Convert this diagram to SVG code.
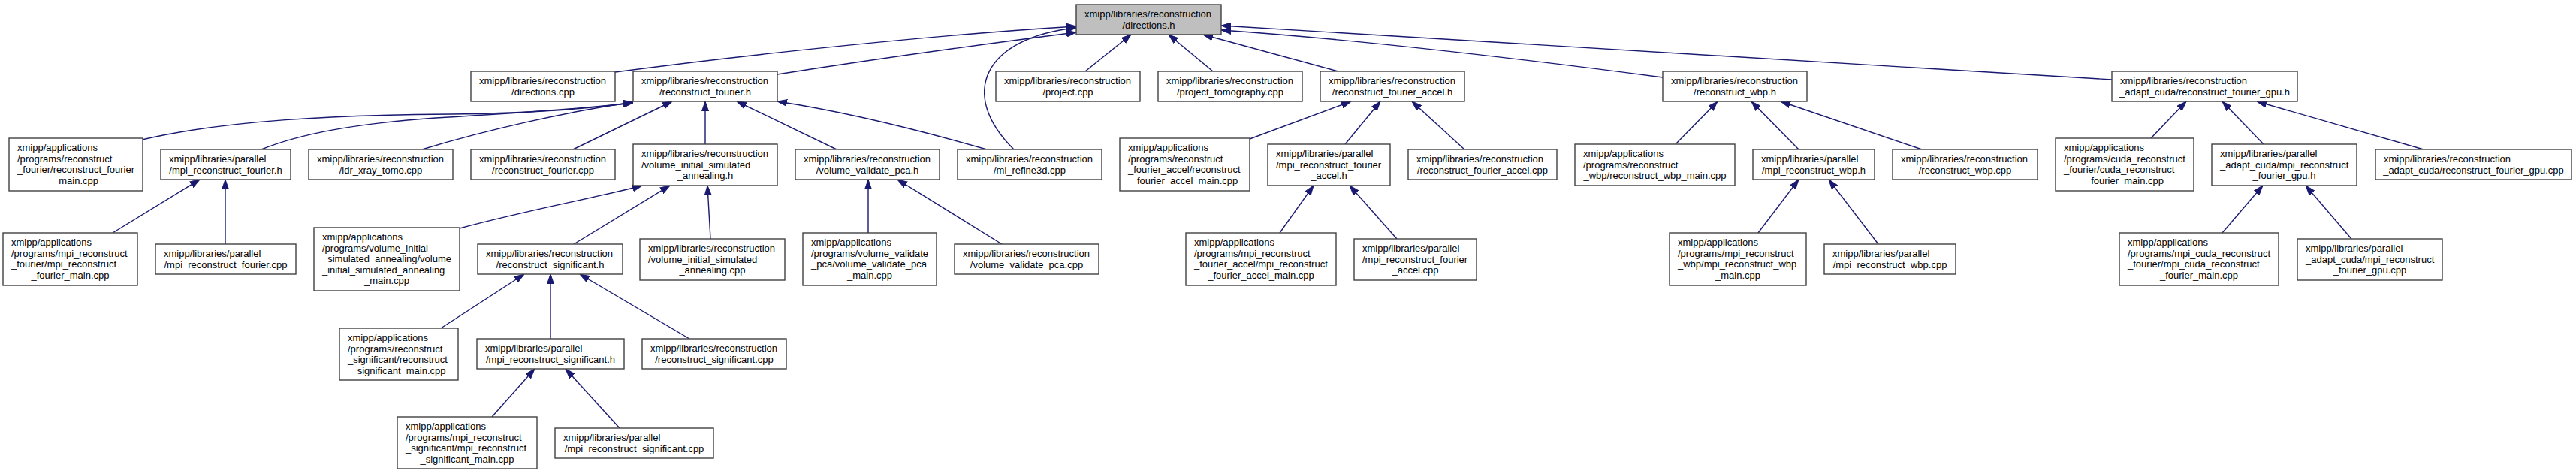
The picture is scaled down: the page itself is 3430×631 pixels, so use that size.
<svg xmlns="http://www.w3.org/2000/svg" width="3430" height="631" viewBox="0 0 3430 631">
<style>
.node rect{fill:#ffffff;stroke:#404040;stroke-width:1.4}
.root rect{fill:#bfbfbf}
text{font-family:"Liberation Sans",Arial,Helvetica,sans-serif;font-size:13px;fill:#000000}
text.c{text-anchor:middle}
.edges path{fill:none;stroke:#191970;stroke-width:1.4;marker-end:url(#arr)}
</style>
<defs>
<marker id="arr" viewBox="0 0 13 10" refX="13" refY="5" markerWidth="13" markerHeight="10" orient="auto" markerUnits="userSpaceOnUse">
<path d="M0,0.5 L13,5 L0,9.5 z" fill="#191970" stroke="#191970" stroke-width="1"/>
</marker>
</defs>
<rect x="0" y="0" width="3430" height="631" fill="#ffffff"/>
<g class="edges">
<path d="M819,96 C1000,72 1250,46 1433,35"/>
<path d="M1035,99 C1150,81 1300,60 1433,43"/>
<path d="M1350,199 C1275,125 1310,50 1433,37"/>
<path d="M1445,95 L1506,46"/>
<path d="M1615,95 L1556,46"/>
<path d="M1782,95 L1602,46"/>
<path d="M2214,103 C2000,75 1800,52 1626,40"/>
<path d="M2812,106 L1626,34"/>
<path d="M189,186 C300,160 450,153 600,152 C700,151 790,145 843,136"/>
<path d="M348,199 C400,178 470,165 580,157 C700,150 790,143 843,137"/>
<path d="M562,199 C650,172 760,148 843,136"/>
<path d="M763,199 L895,135"/>
<path d="M939,192 L939,135"/>
<path d="M1114,199 L981,135"/>
<path d="M1314,199 C1220,172 1120,148 1035,135"/>
<path d="M150,310 L266,239"/>
<path d="M300,325 L300,239"/>
<path d="M612,304 C700,280 800,262 855,247"/>
<path d="M764,325 L892,247"/>
<path d="M946,318 L942,247"/>
<path d="M1156,310 L1156,239"/>
<path d="M1334,325 L1195,239"/>
<path d="M587,437 L698,365"/>
<path d="M733,451 L733,365"/>
<path d="M918,451 L772,365"/>
<path d="M655,555 L712,491"/>
<path d="M825,570 L753,491"/>
<path d="M1664,185 L1799,135"/>
<path d="M1791,192 L1838,135"/>
<path d="M1950,199 L1880,135"/>
<path d="M1704,310 L1749,247"/>
<path d="M1860,318 L1797,247"/>
<path d="M2231,192 L2287,135"/>
<path d="M2395,199 L2332,135"/>
<path d="M2559,199 L2371,135"/>
<path d="M2341,310 L2395,239"/>
<path d="M2501,325 L2435,239"/>
<path d="M2864,184 L2911,135"/>
<path d="M3014,192 L2959,135"/>
<path d="M3227,199 L3005,135"/>
<path d="M2959,310 L3013,247"/>
<path d="M3131,318 L3070,247"/>
</g>
<g id="n1" class="node root"><rect x="1433" y="6" width="193" height="40"/><text x="1444" y="23">xmipp/libraries/reconstruction</text><text class="c" x="1529.5" y="37.6">/directions.h</text></g>
<g id="n2" class="node"><rect x="627" y="95" width="192" height="40"/><text x="638" y="112">xmipp/libraries/reconstruction</text><text class="c" x="723" y="126.6">/directions.cpp</text></g>
<g id="n3" class="node"><rect x="843" y="95" width="192" height="40"/><text x="854" y="112">xmipp/libraries/reconstruction</text><text class="c" x="939" y="126.6">/reconstruct_fourier.h</text></g>
<g id="n4" class="node"><rect x="1326" y="95" width="192" height="40"/><text x="1337" y="112">xmipp/libraries/reconstruction</text><text class="c" x="1422" y="126.6">/project.cpp</text></g>
<g id="n5" class="node"><rect x="1542" y="95" width="192" height="40"/><text x="1553" y="112">xmipp/libraries/reconstruction</text><text class="c" x="1638" y="126.6">/project_tomography.cpp</text></g>
<g id="n6" class="node"><rect x="1758" y="95" width="192" height="40"/><text x="1769" y="112">xmipp/libraries/reconstruction</text><text class="c" x="1854" y="126.6">/reconstruct_fourier_accel.h</text></g>
<g id="n7" class="node"><rect x="2214" y="95" width="192" height="40"/><text x="2225" y="112">xmipp/libraries/reconstruction</text><text class="c" x="2310" y="126.6">/reconstruct_wbp.h</text></g>
<g id="n8" class="node"><rect x="2812" y="95" width="247" height="40"/><text x="2823" y="112">xmipp/libraries/reconstruction</text><text class="c" x="2935.5" y="126.6">_adapt_cuda/reconstruct_fourier_gpu.h</text></g>
<g id="n9" class="node"><rect x="12" y="184" width="178" height="70"/><text x="23" y="201">xmipp/applications</text><text x="23" y="215.6">/programs/reconstruct</text><text x="23" y="230.2">_fourier/reconstruct_fourier</text><text class="c" x="101" y="244.8">_main.cpp</text></g>
<g id="n10" class="node"><rect x="214" y="199" width="173" height="40"/><text x="225" y="216">xmipp/libraries/parallel</text><text class="c" x="300.5" y="230.6">/mpi_reconstruct_fourier.h</text></g>
<g id="n11" class="node"><rect x="411" y="199" width="192" height="40"/><text x="422" y="216">xmipp/libraries/reconstruction</text><text class="c" x="507" y="230.6">/idr_xray_tomo.cpp</text></g>
<g id="n12" class="node"><rect x="627" y="199" width="192" height="40"/><text x="638" y="216">xmipp/libraries/reconstruction</text><text class="c" x="723" y="230.6">/reconstruct_fourier.cpp</text></g>
<g id="n13" class="node"><rect x="843" y="192" width="192" height="55"/><text x="854" y="209">xmipp/libraries/reconstruction</text><text x="854" y="223.6">/volume_initial_simulated</text><text class="c" x="939" y="238.2">_annealing.h</text></g>
<g id="n14" class="node"><rect x="1059" y="199" width="192" height="40"/><text x="1070" y="216">xmipp/libraries/reconstruction</text><text class="c" x="1155" y="230.6">/volume_validate_pca.h</text></g>
<g id="n15" class="node"><rect x="1275" y="199" width="192" height="40"/><text x="1286" y="216">xmipp/libraries/reconstruction</text><text class="c" x="1371" y="230.6">/ml_refine3d.cpp</text></g>
<g id="n16" class="node"><rect x="1491" y="184" width="173" height="70"/><text x="1502" y="201">xmipp/applications</text><text x="1502" y="215.6">/programs/reconstruct</text><text x="1502" y="230.2">_fourier_accel/reconstruct</text><text class="c" x="1577.5" y="244.8">_fourier_accel_main.cpp</text></g>
<g id="n17" class="node"><rect x="1688" y="192" width="163" height="55"/><text x="1699" y="209">xmipp/libraries/parallel</text><text x="1699" y="223.6">/mpi_reconstruct_fourier</text><text class="c" x="1769.5" y="238.2">_accel.h</text></g>
<g id="n18" class="node"><rect x="1875" y="199" width="198" height="40"/><text x="1886" y="216">xmipp/libraries/reconstruction</text><text class="c" x="1974" y="230.6">/reconstruct_fourier_accel.cpp</text></g>
<g id="n19" class="node"><rect x="2097" y="192" width="213" height="55"/><text x="2108" y="209">xmipp/applications</text><text x="2108" y="223.6">/programs/reconstruct</text><text class="c" x="2203.5" y="238.2">_wbp/reconstruct_wbp_main.cpp</text></g>
<g id="n20" class="node"><rect x="2334" y="199" width="162" height="40"/><text x="2345" y="216">xmipp/libraries/parallel</text><text class="c" x="2415" y="230.6">/mpi_reconstruct_wbp.h</text></g>
<g id="n21" class="node"><rect x="2520" y="199" width="193" height="40"/><text x="2531" y="216">xmipp/libraries/reconstruction</text><text class="c" x="2616.5" y="230.6">/reconstruct_wbp.cpp</text></g>
<g id="n22" class="node"><rect x="2737" y="184" width="184" height="70"/><text x="2748" y="201">xmipp/applications</text><text x="2748" y="215.6">/programs/cuda_reconstruct</text><text x="2748" y="230.2">_fourier/cuda_reconstruct</text><text class="c" x="2829" y="244.8">_fourier_main.cpp</text></g>
<g id="n23" class="node"><rect x="2945" y="192" width="193" height="55"/><text x="2956" y="209">xmipp/libraries/parallel</text><text x="2956" y="223.6">_adapt_cuda/mpi_reconstruct</text><text class="c" x="3041.5" y="238.2">_fourier_gpu.h</text></g>
<g id="n24" class="node"><rect x="3163" y="199" width="261" height="40"/><text x="3174" y="216">xmipp/libraries/reconstruction</text><text class="c" x="3293.5" y="230.6">_adapt_cuda/reconstruct_fourier_gpu.cpp</text></g>
<g id="n25" class="node"><rect x="4" y="310" width="179" height="70"/><text x="15" y="327">xmipp/applications</text><text x="15" y="341.6">/programs/mpi_reconstruct</text><text x="15" y="356.2">_fourier/mpi_reconstruct</text><text class="c" x="93.5" y="370.8">_fourier_main.cpp</text></g>
<g id="n26" class="node"><rect x="207" y="325" width="187" height="40"/><text x="218" y="342">xmipp/libraries/parallel</text><text class="c" x="300.5" y="356.6">/mpi_reconstruct_fourier.cpp</text></g>
<g id="n27" class="node"><rect x="418" y="303" width="194" height="84"/><text x="429" y="320">xmipp/applications</text><text x="429" y="334.6">/programs/volume_initial</text><text x="429" y="349.2">_simulated_annealing/volume</text><text x="429" y="363.8">_initial_simulated_annealing</text><text class="c" x="515" y="378.4">_main.cpp</text></g>
<g id="n28" class="node"><rect x="636" y="325" width="193" height="40"/><text x="647" y="342">xmipp/libraries/reconstruction</text><text class="c" x="732.5" y="356.6">/reconstruct_significant.h</text></g>
<g id="n29" class="node"><rect x="852" y="318" width="193" height="55"/><text x="863" y="335">xmipp/libraries/reconstruction</text><text x="863" y="349.6">/volume_initial_simulated</text><text class="c" x="948.5" y="364.2">_annealing.cpp</text></g>
<g id="n30" class="node"><rect x="1069" y="310" width="178" height="70"/><text x="1080" y="327">xmipp/applications</text><text x="1080" y="341.6">/programs/volume_validate</text><text x="1080" y="356.2">_pca/volume_validate_pca</text><text class="c" x="1158" y="370.8">_main.cpp</text></g>
<g id="n31" class="node"><rect x="1271" y="325" width="192" height="40"/><text x="1282" y="342">xmipp/libraries/reconstruction</text><text class="c" x="1367" y="356.6">/volume_validate_pca.cpp</text></g>
<g id="n32" class="node"><rect x="1579" y="310" width="200" height="70"/><text x="1590" y="327">xmipp/applications</text><text x="1590" y="341.6">/programs/mpi_reconstruct</text><text x="1590" y="356.2">_fourier_accel/mpi_reconstruct</text><text class="c" x="1679" y="370.8">_fourier_accel_main.cpp</text></g>
<g id="n33" class="node"><rect x="1803" y="318" width="163" height="55"/><text x="1814" y="335">xmipp/libraries/parallel</text><text x="1814" y="349.6">/mpi_reconstruct_fourier</text><text class="c" x="1884.5" y="364.2">_accel.cpp</text></g>
<g id="n34" class="node"><rect x="2223" y="310" width="182" height="70"/><text x="2234" y="327">xmipp/applications</text><text x="2234" y="341.6">/programs/mpi_reconstruct</text><text x="2234" y="356.2">_wbp/mpi_reconstruct_wbp</text><text class="c" x="2314" y="370.8">_main.cpp</text></g>
<g id="n35" class="node"><rect x="2429" y="325" width="175" height="40"/><text x="2440" y="342">xmipp/libraries/parallel</text><text class="c" x="2516.5" y="356.6">/mpi_reconstruct_wbp.cpp</text></g>
<g id="n36" class="node"><rect x="2822" y="310" width="212" height="70"/><text x="2833" y="327">xmipp/applications</text><text x="2833" y="341.6">/programs/mpi_cuda_reconstruct</text><text x="2833" y="356.2">_fourier/mpi_cuda_reconstruct</text><text class="c" x="2928" y="370.8">_fourier_main.cpp</text></g>
<g id="n37" class="node"><rect x="3059" y="318" width="193" height="55"/><text x="3070" y="335">xmipp/libraries/parallel</text><text x="3070" y="349.6">_adapt_cuda/mpi_reconstruct</text><text class="c" x="3155.5" y="364.2">_fourier_gpu.cpp</text></g>
<g id="n38" class="node"><rect x="452" y="437" width="158" height="69"/><text x="463" y="454">xmipp/applications</text><text x="463" y="468.6">/programs/reconstruct</text><text x="463" y="483.2">_significant/reconstruct</text><text class="c" x="531" y="497.8">_significant_main.cpp</text></g>
<g id="n39" class="node"><rect x="635" y="451" width="196" height="40"/><text x="646" y="468">xmipp/libraries/parallel</text><text class="c" x="733" y="482.6">/mpi_reconstruct_significant.h</text></g>
<g id="n40" class="node"><rect x="855" y="451" width="192" height="40"/><text x="866" y="468">xmipp/libraries/reconstruction</text><text class="c" x="951" y="482.6">/reconstruct_significant.cpp</text></g>
<g id="n41" class="node"><rect x="529" y="555" width="186" height="69"/><text x="540" y="572">xmipp/applications</text><text x="540" y="586.6">/programs/mpi_reconstruct</text><text x="540" y="601.2">_significant/mpi_reconstruct</text><text class="c" x="622" y="615.8">_significant_main.cpp</text></g>
<g id="n42" class="node"><rect x="739" y="570" width="211" height="40"/><text x="750" y="587">xmipp/libraries/parallel</text><text class="c" x="844.5" y="601.6">/mpi_reconstruct_significant.cpp</text></g>
</svg>
